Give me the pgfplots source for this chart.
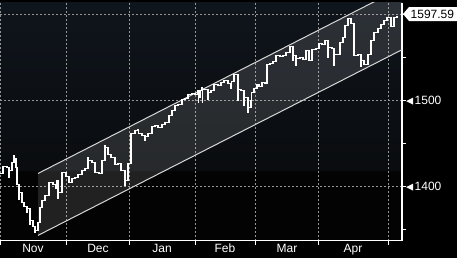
\documentclass[border=0pt]{standalone}
\usepackage{pgfplots}
\pgfplotsset{compat=1.18}
\usepackage{fontspec}
\setmainfont{Liberation Sans}
\definecolor{bgtop}{RGB}{15,21,28}
\definecolor{bgmid}{RGB}{10,12,15}
\definecolor{bgbot}{RGB}{3,3,4}
\definecolor{gridc}{RGB}{150,150,150}
\definecolor{chline}{RGB}{215,215,215}
\pgfdeclareverticalshading{bloombg}{100bp}{color(0bp)=(bgbot); color(39.5bp)=(bgbot); color(40bp)=(bgmid); color(75bp)=(bgtop); color(100bp)=(bgtop)}
\newcommand\tri{\tikz[baseline=-0.6ex]\fill[white] (0,0)--(7pt,3.5pt)--(7pt,-3.5pt)--cycle;\hspace{1.5pt}}
\begin{document}
\begin{tikzpicture}[x=1pt,y=1pt]
\fill[black] (0,0) rectangle (457,258);
\begin{axis}[
  at={(0,20)}, anchor=south west,
  scale only axis, width=402pt, height=238pt,
  xmin=0, xmax=402, ymin=1337.2, ymax=1613.95,
  axis x line*=bottom, axis y line*=right,
  axis line style={white, line width=1.2pt},
  axis background/.style={shade, shading=bloombg},
  tick align=outside,
  major tick length=4pt, minor tick length=4pt,
  tick style={white, line width=1pt},
  xtick={0,66.7,129.3,195,255,318,388},
  xticklabels={,,,,,,},
  extra x ticks={33,98,162,225,287,353},
  extra x tick labels={Nov,Dec,Jan,Feb,Mar,Apr},
  extra x tick style={grid=none, major tick length=0pt},
  ytick={1400,1500,1600},
  yticklabels={\tri 1400,\tri 1500,{}},
  minor ytick={1350,1450,1550},
  xmajorgrids, ymajorgrids,
  major grid style={gridc, dash pattern=on 2pt off 2pt, line width=0.7pt},
  ticklabel style={font=\fontsize{12}{14}\selectfont, text=white},
  xticklabel style={inner sep=3pt},
  yticklabel style={anchor=west, inner sep=0pt},
  clip=true,
]
% channel
\addplot[draw=none, fill=white, fill opacity=0.12] coordinates {(38,1343.5) (402,1559.4) (402,1631.7) (38,1415.5)};
\addplot[chline, line width=1pt] coordinates {(38,1415.5) (402,1631.7)};
\addplot[chline, line width=1pt] coordinates {(38,1343.5) (402,1559.4)};
% price series
\addplot[white, line width=1.1pt, const plot] coordinates {
(0,1415.1) (3,1423.2) (7,1422.1) (9,1410.5) (9.3,1418.6) (12,1427.9) (14,1436.0) (14.3,1432.6)
(16,1422.1) (17,1402.3) (19,1384.9) (19.3,1393.0) (22,1381.4) (24,1376.7) (27,1369.8) (27.3,1374.4)
(30,1355.8) (30.3,1360.5) (33,1353.5) (35,1346.5) (35.3,1348.8) (38,1358.1) (40,1375.6) (42,1383.7)
(45,1389.5) (49,1404.6) (53,1402.3) (56,1397.7) (56.3,1407.0) (58,1386.0) (58.3,1393.0) (62,1416.3)
(66,1411.6) (69,1404.6) (72,1409.3) (75,1410.5) (78,1414.0) (82,1418.6) (85,1420.9) (88,1433.7) (88.3,1430.2)
(92,1427.9) (95,1416.3) (99,1415.1) (102,1430.2) (105,1447.7) (105.3,1445.3) (108,1437.2) (111,1433.7)
(115,1425.6) (118,1426.7) (121,1418.6) (125,1401.1) (125.3,1407.0) (128,1426.7) (131,1461.6) (135,1465.1)
(138,1466.3) (138.3,1461.6) (142,1459.3) (145,1453.5) (145.3,1458.1) (148,1461.6) (152,1469.8) (155,1470.9)
(158,1468.6) (162,1472.1) (165,1474.4) (169,1482.6) (172,1488.4) (175,1494.2) (178,1495.4) (182,1501.2)
(185,1502.3) (188,1507.0) (192,1508.1) (195,1507.0) (198,1511.6) (198.3,1497.7) (198.6,1503.5) (200,1511.6)
(202,1515.1) (202.3,1497.7) (202.6,1512.8) (205,1512.8) (208,1501.2) (208.3,1509.3) (211,1511.6) (214,1518.6)
(218,1517.5) (221,1521.0) (224,1523.3) (228,1519.8) (231,1514.0) (231.3,1522.1) (234,1530.2) (238,1500.0) (238.3,1512.8)
(241,1511.6) (244,1494.2) (244.3,1503.5) (248,1486.0) (248.3,1491.9) (251,1500.0) (251.3,1509.3) (254,1514.0)
(257,1518.6) (259,1516.3) (262,1521.0) (265,1520.0) (267,1541.9) (270,1543.0) (273,1545.3) (276,1552.3)
(280,1551.0) (283,1553.0) (286,1555.8) (290,1562.8) (293,1546.5) (293.3,1552.3) (296,1540.7) (296.3,1548.8)
(300,1550.0) (303,1547.7) (306,1558.1) (309,1546.5) (312,1559.3) (316,1560.4) (319,1566.3) (322,1565.0)
(325,1569.8) (328,1550.0) (328.3,1561.6) (332,1560.4) (334,1540.7) (334.3,1553.5) (337,1553.5) (340,1567.4)
(343,1573.2) (345,1587.2) (348,1595.3) (351,1589.5) (354,1552.3) (358,1553.5) (361,1539.5) (361.3,1546.5)
(364,1541.9) (368,1553.5) (371,1569.8) (374,1579.1) (378,1583.7) (381,1588.4) (384,1593.0) (387,1596.5)
(391,1586.0) (394,1596.5) (397,1597.59) (398,1597.59)
};
\end{axis}
% last price label
\fill[white] (403,244) -- (409,251) -- (457,251) -- (457,237) -- (409,237) -- cycle;
\node[text=black, font=\fontsize{12}{14}\selectfont, anchor=west, inner sep=0pt] at (410.5,244) {1597.59};
\pgfresetboundingbox
\path (0,0) rectangle (457,258);
\end{tikzpicture}
\end{document}
